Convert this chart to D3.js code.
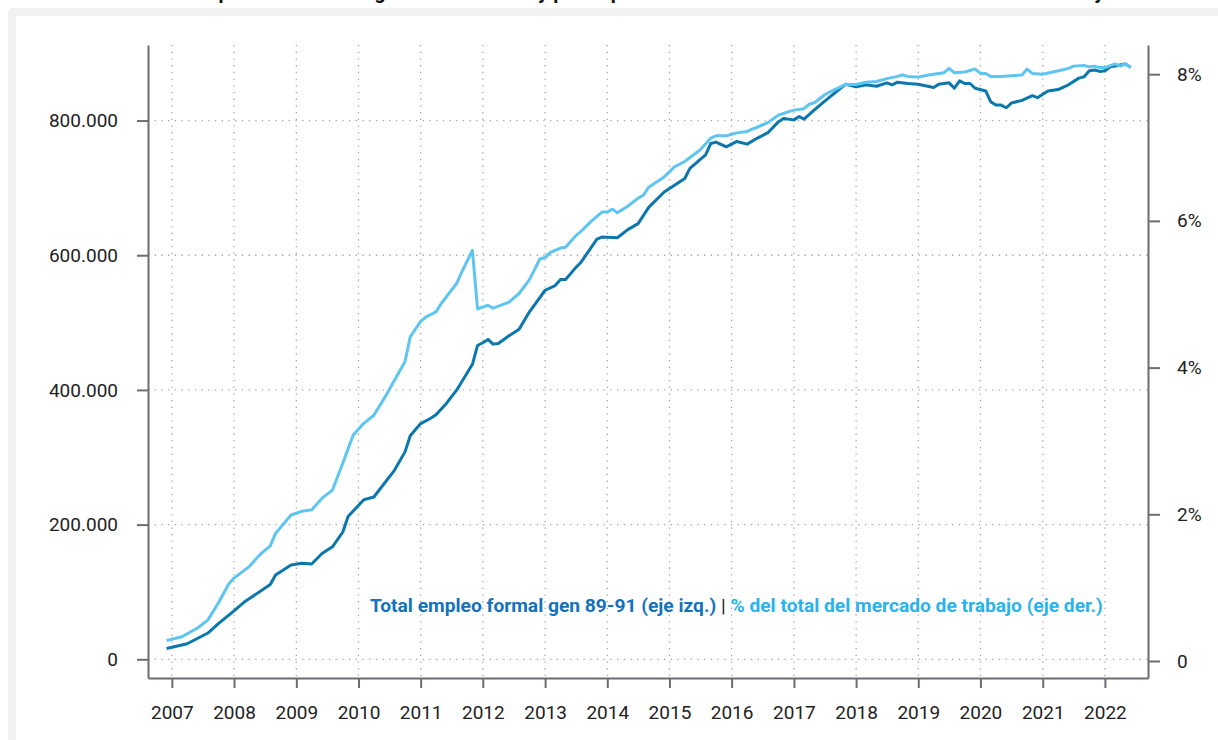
<!DOCTYPE html>
<html>
<head>
<meta charset="utf-8">
<script src="https://cdn.jsdelivr.net/npm/d3@7"></script>
<style>
  body { margin: 0; background: #fff; }
  svg { display: block; font-family: Roboto, "Noto Sans", sans-serif; }
</style>
</head>
<body>
<div id="chart"></div>
<script>
// --- DATA ---
const empleoMeses = ["2006-12","2007-04","2007-08","2007-10","2008-01","2008-03","2008-08","2008-09","2008-12","2009-02","2009-04","2009-06","2009-08","2009-10","2009-11","2010-02","2010-04","2010-08","2010-10","2010-11","2011-01","2011-03","2011-04","2011-06","2011-08","2011-11","2011-12","2012-01","2012-02","2012-03","2012-04","2012-06","2012-08","2012-10","2013-01","2013-03","2013-04","2013-05","2013-07","2013-08","2013-11","2013-12","2014-03","2014-05","2014-07","2014-09","2014-12","2015-04","2015-05","2015-08","2015-09","2015-10","2015-12","2016-02","2016-04","2016-06","2016-08","2016-10","2016-11","2017-01","2017-02","2017-03","2017-05","2017-07","2017-10","2017-11","2018-01","2018-03","2018-05","2018-07","2018-08","2018-09","2018-11","2019-01","2019-04","2019-05","2019-07","2019-08","2019-09","2019-10","2019-11","2019-12","2020-02","2020-03","2020-04","2020-05","2020-06","2020-07","2020-09","2020-11","2020-12","2021-01","2021-02","2021-04","2021-06","2021-08","2021-09","2021-10","2021-11","2021-12","2022-01","2022-02","2022-03","2022-05","2022-06"];
const empleoTotal = [16000,23000,39000,53000,72000,85000,111000,125000,140000,142500,141500,157000,167000,189000,212000,237000,241000,281000,308000,332000,350000,358000,363000,380000,400000,438000,466000,470000,475000,468000,469000,480000,490000,516000,548000,555000,564000,564000,582000,590000,624000,627000,626000,638000,647000,671000,694000,714000,729000,749000,766000,768000,761000,769000,765000,774000,782000,798000,803000,801000,806000,802000,816000,829000,848000,854000,850000,853000,851000,856000,853000,857000,855000,854000,849000,854000,856000,848000,859000,855000,855000,848000,844000,828000,823000,823000,819000,826000,830000,837000,834000,839000,844000,846000,853000,863000,865000,874000,875000,873000,874000,880000,881000,884000,879000];

const partMeses = ["2006-12","2007-03","2007-06","2007-08","2007-10","2007-12","2008-01","2008-04","2008-06","2008-08","2008-09","2008-12","2009-02","2009-04","2009-06","2009-08","2009-10","2009-12","2010-02","2010-04","2010-06","2010-08","2010-10","2010-11","2011-01","2011-02","2011-04","2011-05","2011-08","2011-09","2011-11","2011-12","2012-02","2012-03","2012-06","2012-08","2012-10","2012-12","2013-01","2013-02","2013-04","2013-05","2013-07","2013-08","2013-10","2013-12","2014-01","2014-02","2014-03","2014-05","2014-07","2014-08","2014-09","2014-12","2015-02","2015-04","2015-07","2015-09","2015-10","2015-12","2016-02","2016-04","2016-06","2016-08","2016-10","2016-12","2017-01","2017-03","2017-04","2017-05","2017-07","2017-08","2017-11","2018-01","2018-03","2018-05","2018-07","2018-09","2018-10","2018-11","2019-01","2019-03","2019-04","2019-06","2019-07","2019-08","2019-10","2019-12","2020-01","2020-02","2020-03","2020-05","2020-07","2020-09","2020-10","2020-11","2021-01","2021-03","2021-05","2021-06","2021-07","2021-09","2021-10","2021-11","2021-12","2022-01","2022-03","2022-04","2022-05","2022-06"];
const partPct = [0.28,0.33,0.45,0.56,0.79,1.05,1.13,1.29,1.45,1.57,1.74,1.99,2.04,2.06,2.22,2.33,2.70,3.08,3.24,3.35,3.58,3.83,4.08,4.42,4.63,4.69,4.76,4.87,5.15,5.31,5.60,4.80,4.85,4.81,4.89,5.01,5.20,5.48,5.50,5.57,5.63,5.64,5.80,5.86,6.00,6.12,6.12,6.16,6.11,6.20,6.31,6.35,6.46,6.60,6.74,6.81,6.97,7.13,7.16,7.16,7.20,7.22,7.28,7.34,7.44,7.49,7.51,7.53,7.59,7.61,7.72,7.76,7.86,7.86,7.89,7.90,7.94,7.97,7.99,7.97,7.96,7.99,8.00,8.02,8.08,8.02,8.03,8.07,8.01,8.01,7.97,7.97,7.98,7.99,8.07,8.01,8.00,8.03,8.06,8.08,8.11,8.12,8.10,8.11,8.09,8.09,8.14,8.11,8.14,8.09];

const anios = d3.range(2007, 2023);
const ticksIzq = [0, 200000, 400000, 600000, 800000];
const ticksDer = [0, 2, 4, 6, 8];

const titulo = "Empleo formal de la generación 89-91 y participación en el mercado laboral formal colombiano total y %";
const leyendaOscuro = "Total empleo formal gen 89-91 (eje izq.)";
const leyendaClaro = "% del total del mercado de trabajo (eje der.)";

// --- SETUP ---
const width = 1218, height = 740;
const plot = { left: 148, right: 1148, top: 45, bottom: 678 };
const colOscuro = "#0b77ad", colClaro = "#5ec5f1";
const colAxis = "#6c6c74";

const parseMes = d3.timeParse("%Y-%m");
const locale = d3.formatLocale({ decimal: ",", thousands: ".", grouping: [3], currency: ["$", ""] });
const fmtMiles = locale.format(",.0f");

const svg = d3.select("#chart").append("svg").attr("width", width).attr("height", height);

// frame
svg.append("rect").attr("x", 8).attr("y", 8).attr("width", 1240).attr("height", 800).attr("rx", 5).attr("fill", "#f1f1f1");
svg.append("rect").attr("x", 16).attr("y", 16).attr("width", 1240).attr("height", 800).attr("fill", "#fff");

// title (cut off at top of the picture, as in the original)
svg.append("text").attr("x", 190).attr("y", -1)
    .style("font-size", "20px").style("font-weight", "700").attr("fill", "#111")
    .text(titulo);

const x = d3.scaleTime()
    .domain([new Date(2006, 7, 14), new Date(2022, 8, 11)])
    .range([plot.left, plot.right]);
const yIzq = d3.scaleLinear().domain([-27800, 912200]).range([plot.bottom, plot.top]);
const yDer = d3.scaleLinear().domain([-0.232, 8.398]).range([plot.bottom, plot.top]);

// --- GRID ---
const grid = svg.append("g").attr("class", "grid");
grid.selectAll(".gx").data(anios).join("line")
    .attr("x1", d => x(new Date(d, 0, 1))).attr("x2", d => x(new Date(d, 0, 1)))
    .attr("y1", plot.top).attr("y2", plot.bottom)
    .attr("stroke", "#a5a5a5").attr("stroke-width", 1.3).attr("stroke-dasharray", "1.3,5.4");
grid.selectAll(".gy").data(ticksIzq).join("line")
    .attr("x1", plot.left).attr("x2", plot.right)
    .attr("y1", d => yIzq(d)).attr("y2", d => yIzq(d))
    .attr("stroke", "#a5a5a5").attr("stroke-width", 1.3).attr("stroke-dasharray", "1.3,5.4");

// --- AXES ---
function styleAxis(g) {
    g.select(".domain").attr("stroke", colAxis).attr("stroke-width", 2);
    g.selectAll(".tick line").attr("stroke", colAxis).attr("stroke-width", 2);
    g.selectAll(".tick text").attr("fill", "#222").style("font-size", "19px").style("font-family", "Roboto, sans-serif");
}

svg.append("g").attr("transform", `translate(${plot.left},0)`)
    .call(d3.axisLeft(yIzq).tickValues(ticksIzq).tickFormat(fmtMiles).tickSize(11).tickSizeOuter(0).tickPadding(19))
    .call(styleAxis);

svg.append("g").attr("transform", `translate(${plot.right},0)`)
    .call(d3.axisRight(yDer).tickValues(ticksDer).tickFormat(d => d === 0 ? "0" : d + "%").tickSize(12).tickSizeOuter(0).tickPadding(17))
    .call(styleAxis);

svg.append("g").attr("transform", `translate(0,${plot.bottom})`)
    .call(d3.axisBottom(x).tickValues(anios.map(a => new Date(a, 0, 1))).tickFormat(d3.timeFormat("%Y")).tickSize(10).tickSizeOuter(0).tickPadding(18))
    .call(styleAxis);

// --- LINES ---
const datosOscuro = empleoMeses.map((m, i) => ({ fecha: parseMes(m), valor: empleoTotal[i] }));
const datosClaro = partMeses.map((m, i) => ({ fecha: parseMes(m), valor: partPct[i] }));

const lineIzq = d3.line().x(d => x(d.fecha)).y(d => yIzq(d.valor));
const lineDer = d3.line().x(d => x(d.fecha)).y(d => yDer(d.valor));

svg.append("path").datum(datosOscuro).attr("d", lineIzq)
    .attr("fill", "none").attr("stroke", colOscuro).attr("stroke-width", 3).attr("stroke-linejoin", "round");
svg.append("path").datum(datosClaro).attr("d", lineDer)
    .attr("fill", "none").attr("stroke", colClaro).attr("stroke-width", 3).attr("stroke-linejoin", "round");

// --- LEGEND ---
const leyenda = svg.append("text").attr("x", 370).attr("y", 612)
    .style("font-size", "19.2px").style("font-weight", "700");
leyenda.append("tspan").attr("fill", "#1372bd").text(leyendaOscuro);
leyenda.append("tspan").attr("fill", "#222").style("font-weight", "400").text(" | ");
leyenda.append("tspan").attr("fill", "#27b3ec").text(leyendaClaro);
</script>
</body>
</html>
